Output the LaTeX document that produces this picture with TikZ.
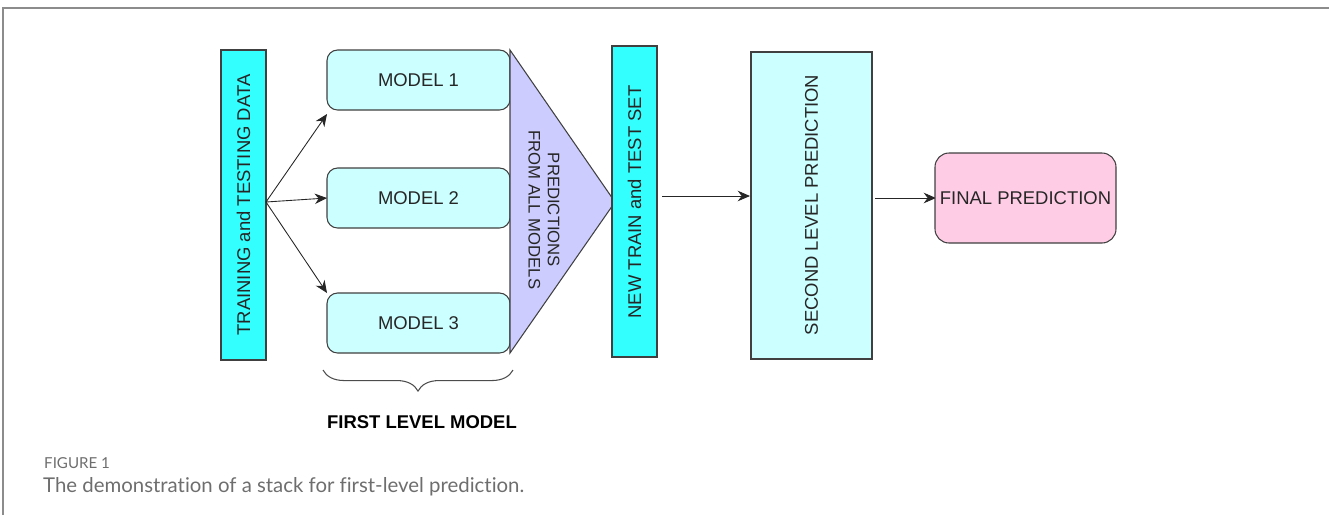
\documentclass[tikz,border=0pt]{standalone}
\usepackage{fontspec}
\setmainfont{Liberation Sans}
\newfontfamily\capfont[Ligatures=NoCommon]{Lato}
\usetikzlibrary{arrows.meta,decorations.pathreplacing}
\definecolor{cyanA}{HTML}{33FFFF}
\definecolor{cyanB}{HTML}{CCFFFF}
\definecolor{lav}{HTML}{CCCCFF}
\definecolor{pinkA}{HTML}{FFCCE6}
\definecolor{capgray}{HTML}{6E6E6E}
\begin{document}
\begin{tikzpicture}[x=0.02cm,y=-0.02cm,
  bar/.style={draw=black!75,fill=cyanA,line width=0.6pt},
  mbox/.style={draw=black!75,fill=cyanB,rounded corners=6pt,line width=0.6pt},
  lbl/.style={font=\fontsize{10.5}{12}\selectfont,text=black!85},
  arr/.style={-{Stealth[length=7pt,width=6pt]},line width=0.5pt,black!85}]
\useasboundingbox (0,0) rectangle (1329,515);
% frame
\draw[black!45,line width=1pt] (3,515) -- (3,8) -- (1329,8);
% training bar
\draw[bar] (221,50) rectangle (266,360);
\node[lbl,rotate=90] (train) at (243.5,205) {TRAINING and TESTING DATA};
\coordinate (src) at (266,202);
% models
\draw[mbox] (327,50) rectangle (510,110);
\node[lbl] (m1) at (418.5,80) {MODEL 1};
\draw[mbox] (327,168) rectangle (510,228);
\node[lbl] (m2) at (418.5,198) {MODEL 2};
\draw[mbox] (327,293) rectangle (510,353);
\node[lbl] (m3) at (418.5,323) {MODEL 3};
\coordinate (m1in) at (327,114);
\coordinate (m2in) at (327,198);
\coordinate (m3in) at (327,293);
\draw[arr] (src) -- (m1in);
\draw[arr] (src) -- (m2in);
\draw[arr] (src) -- (m3in);
% triangle
\draw[draw=black!75,fill=lav,line width=0.6pt] (510,50) -- (615,202) -- (510,353) -- cycle;
\node[lbl,rotate=-90,align=center,font=\fontsize{9.5}{11}\selectfont] (pred) at (544,210) {PREDICTIONS\\FROM ALL MODELS};
% new train bar
\draw[bar] (612,46) rectangle (657,357);
\node[lbl,rotate=90] (newtr) at (634.5,202) {NEW TRAIN and TEST SET};
\coordinate (a1s) at (662,196);
\coordinate (a1e) at (750,196);
\draw[arr] (a1s) -- (a1e);
% second level
\draw[draw=black!75,fill=cyanB,line width=0.6pt] (751,52) rectangle (872,359);
\node[lbl,rotate=90] (second) at (811.5,205) {SECOND LEVEL PREDICTION};
\coordinate (a2s) at (875,198);
\coordinate (a2e) at (936,198);
\draw[arr] (a2s) -- (a2e);
% final
\draw[draw=black!75,fill=pinkA,rounded corners=8pt,line width=0.6pt] (935,153) rectangle (1116,243);
\node[lbl] (final) at (1025.5,198) {FINAL PREDICTION};
% brace
\coordinate (b1) at (513,370);
\coordinate (b2) at (323,370);
\draw[black!70,line width=0.6pt,decorate,decoration={brace,amplitude=12pt}] (b1) -- (b2);
\node[font=\bfseries\fontsize{10.5}{12}\selectfont] (flm) at (422,422) {FIRST LEVEL MODEL};
% caption
\node[anchor=west,text=capgray,font=\capfont\fontsize{8.6}{9}\selectfont] (fig) at (38,463) {FIGURE 1};
\node[anchor=west,text=capgray,font=\capfont\fontsize{11.6}{13}\selectfont] (cap) at (37,487) {The demonstration of a stack for first-level prediction.};
\end{tikzpicture}
\end{document}
